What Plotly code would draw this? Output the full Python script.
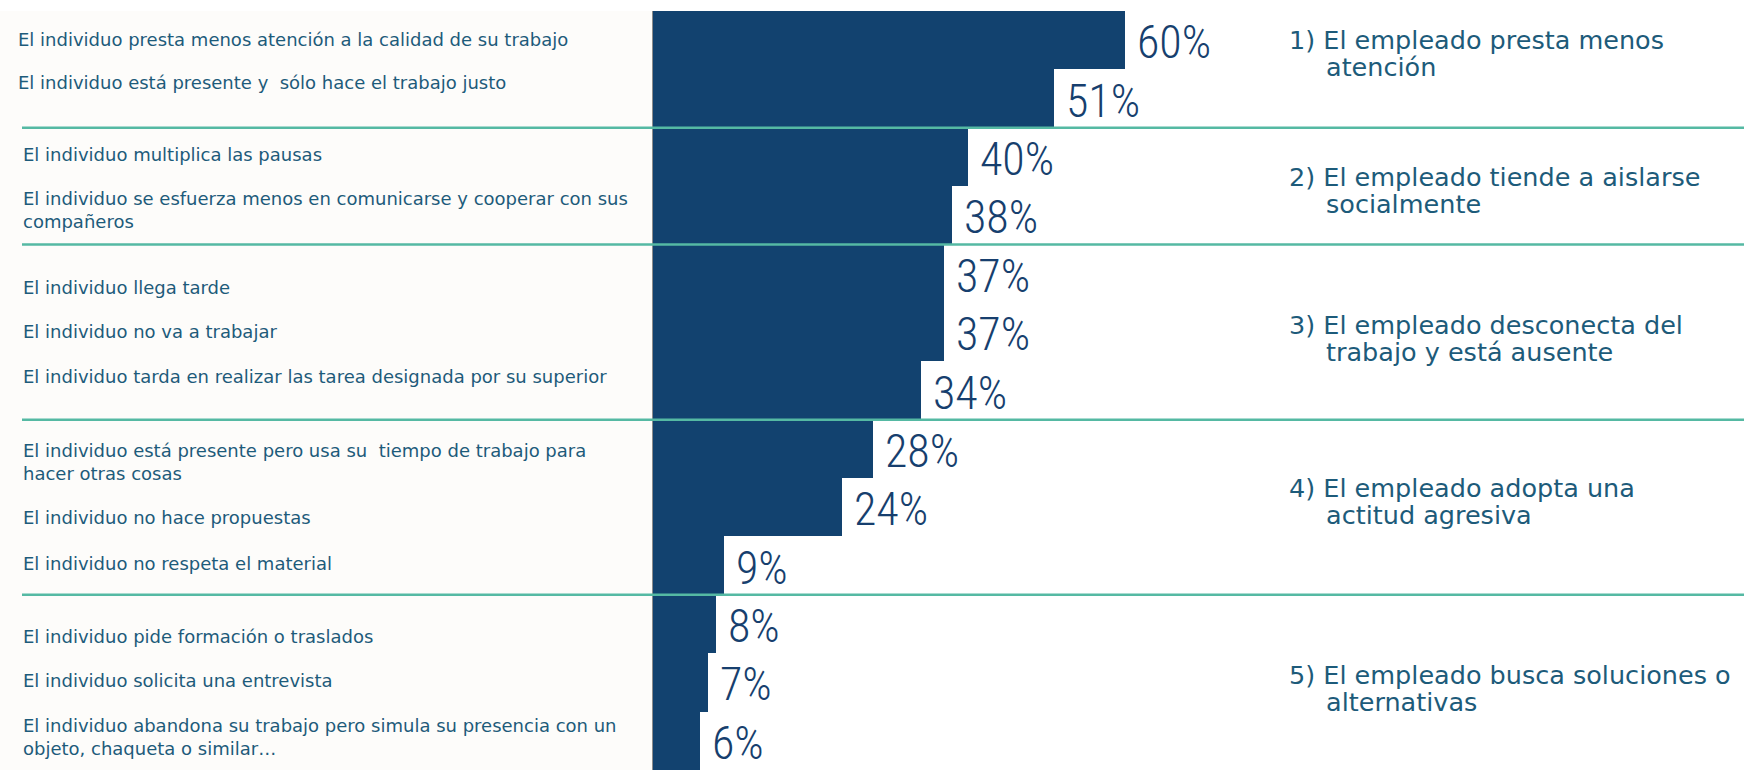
import plotly.graph_objects as go

# Behaviours (one bar each, top to bottom) and the share of respondents
behaviours = [
    "El individuo presta menos atención a la calidad de su trabajo",
    "El individuo está presente y  sólo hace el trabajo justo",
    "El individuo multiplica las pausas",
    "El individuo se esfuerza menos en comunicarse y cooperar con sus<br>compañeros",
    "El individuo llega tarde",
    "El individuo no va a trabajar",
    "El individuo tarda en realizar las tarea designada por su superior",
    "El individuo está presente pero usa su  tiempo de trabajo para<br>hacer otras cosas",
    "El individuo no hace propuestas",
    "El individuo no respeta el material",
    "El individuo pide formación o traslados",
    "El individuo solicita una entrevista",
    "El individuo abandona su trabajo pero simula su presencia con un<br>objeto, chaqueta o similar…",
]
shares = [60, 51, 40, 38, 37, 37, 34, 28, 24, 9, 8, 7, 6]

# Behaviour groups: title and number of bars in each
group_titles = [
    ("1) El empleado presta menos", "atención"),
    ("2) El empleado tiende a aislarse", "socialmente"),
    ("3) El empleado desconecta del", "trabajo y está ausente"),
    ("4) El empleado adopta una", "actitud agresiva"),
    ("5) El empleado busca soluciones o", "alternativas"),
]
group_sizes = [2, 2, 3, 3, 3]

# ---- styling ----
W, H = 1744, 770
M_L, M_T = 653, 11
PLOT_W = W - M_L
PX_PER_PCT = 7.87
BAR = "#12426f"
TEXT = "#1d5b7a"
NUM = "#173f6e"
TEAL = "#55b9a3"
LABEL_FONT = "DejaVu Sans"
NUM_FONT = "Roboto Condensed, Roboto, sans-serif"

# small vertical nudges (px) for the free-standing text blocks
label_nudge = [1, 16, 2.5, 5.5, -14, 1, 14.5, -13, -10.5, 2.5, -12, 2, 4]
group_nudge = [15.5, -4, -6, 5.5, -6.5]

n = len(behaviours)
rows = list(range(n))

fig = go.Figure(
    go.Bar(
        x=shares,
        y=rows,
        orientation="h",
        marker=dict(color=BAR, line=dict(width=0)),
        width=1.0,
        hoverinfo="skip",
    )
)

def px_to_paper_x(px):
    return (px - M_L) / PLOT_W

annotations = []
shapes = []

group_of_row = []
for g, size in enumerate(group_sizes):
    group_of_row += [g] * size

# behaviour labels on the left
for i, txt in enumerate(behaviours):
    annotations.append(dict(
        xref="paper", yref="y",
        x=px_to_paper_x(16 if group_of_row[i] == 0 else 21), y=i,
        xanchor="left", yanchor="middle", align="left",
        yshift=label_nudge[i],
        text=txt, showarrow=False,
        font=dict(family=LABEL_FONT, size=18, color=TEXT),
    ))

# percentage next to each bar
for i, v in enumerate(shares):
    annotations.append(dict(
        xref="x", yref="y", x=v, y=i,
        xanchor="left", yanchor="middle",
        xshift=10, yshift=-2,
        text=f"{v}%", showarrow=False,
        font=dict(family=NUM_FONT, size=46, color=NUM, weight=300),
    ))

# group titles on the right, teal rules between groups
start = 0
for g, size in enumerate(group_sizes):
    mid = start + (size - 1) / 2
    l1, l2 = group_titles[g]
    for txt, xpx, dy in ((l1, 1287, 13.5), (l2, 1324, -13.5)):
        annotations.append(dict(
            xref="paper", yref="y",
            x=px_to_paper_x(xpx), y=mid,
            xanchor="left", yanchor="middle", align="left",
            yshift=group_nudge[g] + dy,
            text=txt, showarrow=False,
            font=dict(family=LABEL_FONT, size=25.5, color=TEXT),
        ))
    end = start + size
    if end < n:
        shapes.append(dict(
            type="line", xref="paper", yref="y",
            x0=px_to_paper_x(22), x1=1.0,
            y0=end - 0.5, y1=end - 0.5,
            line=dict(color=TEAL, width=2.5),
            layer="above",
        ))
    start = end

# off-white panel behind the behaviour labels
shapes.append(dict(
    type="rect", xref="paper", yref="paper",
    x0=px_to_paper_x(0), x1=0, y0=0, y1=1,
    fillcolor="#fdfcfa", line=dict(width=0), layer="below",
))

fig.update_layout(
    width=W, height=H,
    margin=dict(l=M_L, r=0, t=M_T, b=0, pad=0),
    paper_bgcolor="white",
    plot_bgcolor="white",
    showlegend=False,
    bargap=0,
    xaxis=dict(range=[0, PLOT_W / PX_PER_PCT], visible=False, fixedrange=True),
    yaxis=dict(
        range=[n - 0.5, -0.5],
        showticklabels=False, showgrid=False, zeroline=False,
        showline=True, linecolor="#8c8c8c", linewidth=1,
        ticks="", fixedrange=True,
    ),
    annotations=annotations,
    shapes=shapes,
)

fig.write_html("out.html", config={"displayModeBar": False})
